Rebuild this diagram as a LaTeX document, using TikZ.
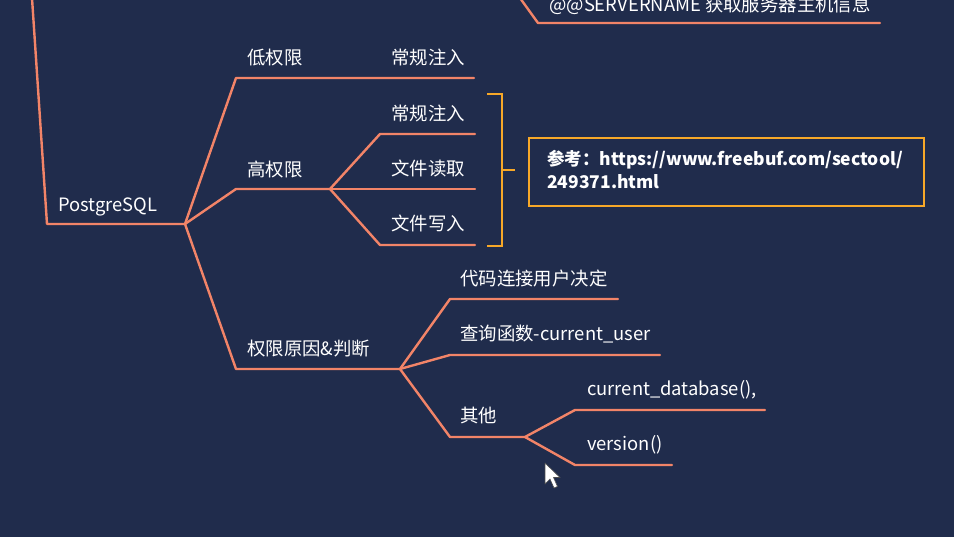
\documentclass[tikz,border=0pt]{standalone}
\usepackage{fontspec}
\setmainfont{Noto Sans CJK SC}
\definecolor{bg}{RGB}{32,44,76}
\definecolor{branch}{RGB}{242,132,104}
\definecolor{accent}{RGB}{247,168,40}
\begin{document}
\begin{tikzpicture}[x=1pt,y=-1pt,
  br/.style={draw=branch,line width=2.4pt,line join=round,line cap=round},
  lbl/.style={anchor=base west,inner sep=0pt,text=white,font=\fontsize{18.4}{22}\selectfont},
  brk/.style={draw=accent,line width=2.2pt},
]
\fill[bg] (0,0) rectangle (954,537);
\useasboundingbox (0,0) rectangle (954,537);

% coordinates
\coordinate (topA) at (520,-2);
\coordinate (topB) at (538,23);
\coordinate (topC) at (880,23);
\coordinate (leftTop) at (32,-2);
\coordinate (pgL) at (47,224);
\coordinate (pg) at (185,224);
\coordinate (lowC) at (236,78);
\coordinate (lowE) at (474,78);
\coordinate (highC) at (236,189);
\coordinate (highJ) at (330,189);
\coordinate (h1C) at (380,134);
\coordinate (h1E) at (475,134);
\coordinate (h2E) at (475,189);
\coordinate (h3C) at (380,245);
\coordinate (h3E) at (475,245);
\coordinate (rC) at (236,369);
\coordinate (rJ) at (400,369);
\coordinate (r1C) at (450,299);
\coordinate (r1E) at (618,299);
\coordinate (r2C) at (450,355);
\coordinate (r2E) at (660,355);
\coordinate (r3C) at (450,437);
\coordinate (r3J) at (525,437);
\coordinate (o1C) at (575,410);
\coordinate (o1E) at (765,410);
\coordinate (o2C) at (575,465);
\coordinate (o2E) at (672,465);

% branches
\draw[br] (topA) -- (topB) -- (topC);
\draw[br] (leftTop) -- (pgL) -- (pg);
\draw[br] (pg) -- (lowC) -- (lowE);
\draw[br] (pg) -- (highC) -- (highJ);
\draw[br] (highJ) -- (h1C) -- (h1E);
\draw[br] (highJ) -- (h2E);
\draw[br] (highJ) -- (h3C) -- (h3E);
\draw[br] (pg) -- (rC) -- (rJ);
\draw[br] (rJ) -- (r1C) -- (r1E);
\draw[br] (rJ) -- (r2C) -- (r2E);
\draw[br] (rJ) -- (r3C) -- (r3J);
\draw[br] (r3J) -- (o1C) -- (o1E);
\draw[br] (r3J) -- (o2C) -- (o2E);

% labels
\node[lbl] (server) at (549,12) {@@SERVERNAME 获取服务器主机信息};
\node[lbl] (pgt) at (58,212) {PostgreSQL};
\node[lbl] (low) at (247,65) {低权限};
\node[lbl] (lowinj) at (391,65) {常规注入};
\node[lbl] (high) at (247,177) {高权限};
\node[lbl] (hinj) at (391,121) {常规注入};
\node[lbl] (hread) at (391,176) {文件读取};
\node[lbl] (hwrite) at (391,231) {文件写入};
\node[lbl] (reason) at (247,356) {权限原因\&判断};
\node[lbl] (code) at (460,286) {代码连接用户决定};
\node[lbl] (query) at (460,341) {查询函数-current\_user};
\node[lbl] (other) at (460,423) {其他};
\node[lbl] (curdb) at (587,396) {current\_database(),};
\node[lbl] (ver) at (587,451) {version()};

% bracket
\coordinate (bT) at (487,94);
\coordinate (bTR) at (502,94);
\coordinate (bB) at (487,246);
\coordinate (bBR) at (502,246);
\coordinate (bM) at (502,170);
\coordinate (bMR) at (515,170);
\draw[brk] (bT) -- (bTR) -- (bBR) -- (bB);
\draw[brk] (bM) -- (bMR);

% reference box
\node[draw=accent,line width=2.4pt,minimum width=395pt,minimum height=68pt,anchor=north west,inner sep=0pt] (refbox) at (528,137) {};
\node[lbl,font=\fontsize{17.5}{21}\selectfont\bfseries] (ref1) at (547,166) {参考：https://www.freebuf.com/sectool/};
\node[lbl,font=\fontsize{17.5}{21}\selectfont\bfseries] (ref2) at (547,189) {249371.html};

% mouse cursor
\fill[white,draw=black!70,line width=0.6pt,line join=round]
  (545,463) -- (545,484) -- (550,479) -- (554,488) -- (557.5,486.5) -- (553.5,477.5) -- (560,477.5) -- cycle;
\end{tikzpicture}
\end{document}
